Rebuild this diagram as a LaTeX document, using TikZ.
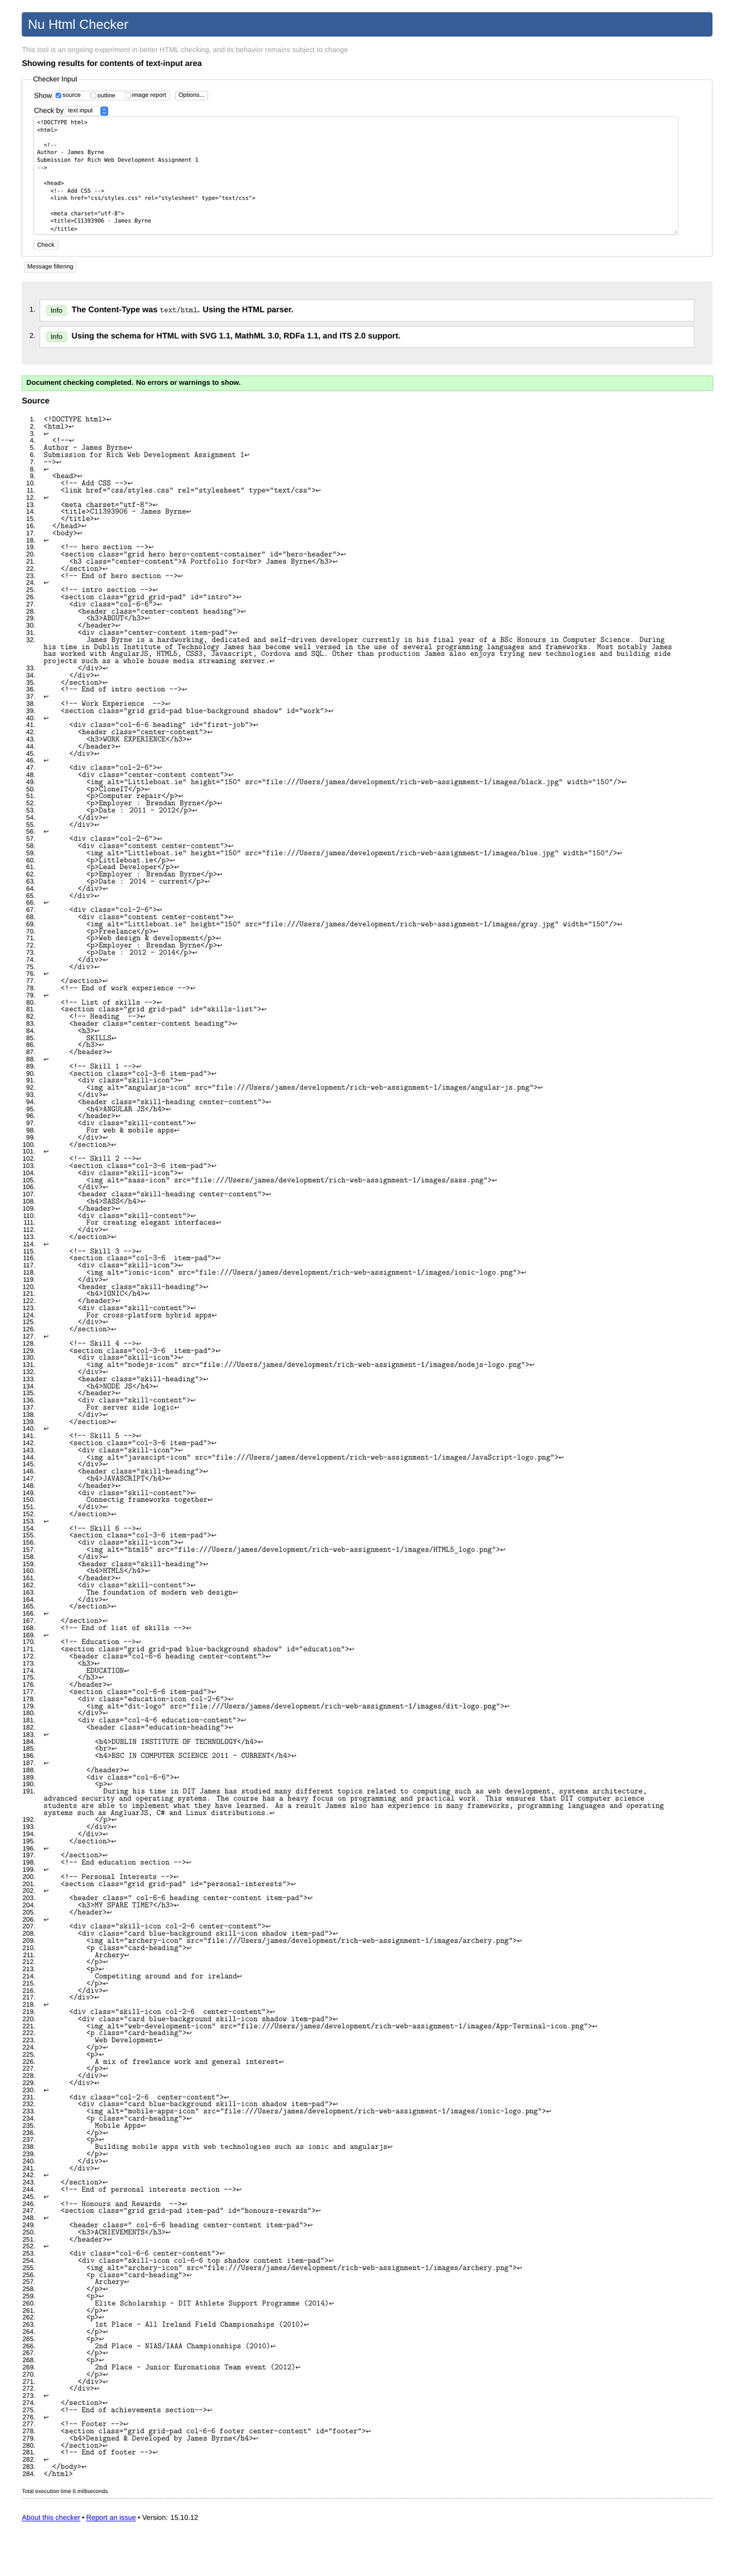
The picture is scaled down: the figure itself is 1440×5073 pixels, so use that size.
\documentclass[tikz,border=0pt]{standalone}
\usepackage{fontspec}
\setmainfont{Liberation Sans}
\newfontfamily\symfont{DejaVu Sans}
\newfontfamily\areafont{DejaVu Sans Mono}
\usetikzlibrary{positioning}

\definecolor{hdrblue}{RGB}{54,93,149}
\definecolor{taggray}{RGB}{160,160,160}
\definecolor{boxgray}{RGB}{204,204,204}
\definecolor{panelgray}{RGB}{238,238,238}
\definecolor{okfill}{RGB}{204,255,204}
\definecolor{okline}{RGB}{160,210,160}
\definecolor{infofill}{RGB}{220,250,215}
\definecolor{infoline}{RGB}{150,200,140}
\definecolor{tickblue}{RGB}{59,131,247}
\definecolor{linkblue}{RGB}{0,0,238}

\newcommand\fs[1]{\fontsize{#1}{#1}\selectfont}
\newcommand\ret{{\symfont\fs{12}\char"21A9}}
\newcommand\imgdir{file:///Users/james/development/rich-web-assignment-1/images/}

\tikzset{
  uibox/.style={draw=boxgray, line width=0.8pt, rounded corners=3pt},
  uitext/.style={anchor=west, inner sep=0pt, font=\fs{14}},
  uismall/.style={anchor=west, inner sep=0pt, font=\fs{12}},
  msgtext/.style={anchor=west, inner sep=0pt, font=\bfseries\fs{16}},
  badge/.style={draw=infoline, fill=infofill, rounded corners=3pt, minimum width=39pt, minimum height=19pt, inner sep=0pt, font=\fs{14}},
  areatext/.style={anchor=west, inner sep=0pt, font=\areafont\fs{11}},
  srcno/.style={anchor=east, inner sep=0pt, text height=9pt, text depth=2pt, font=\fs{13}},
  srctext/.style={anchor=west, inner sep=0pt, text height=10pt, text depth=3pt, font=\ttfamily\fs{16}},
  linktext/.style={anchor=base west, inner sep=0pt, text=linkblue, font=\fs{14}},
  basetext/.style={anchor=base west, inner sep=0pt, font=\fs{14}}
}

% one listing row: number, indent (chars), text
\newcount\srcrow
\newcount\srcnum
\newcommand\srcbare[2]{%
  \global\advance\srcnum by 1
  \node[srcno] (no\the\srcnum) at (70,{827+14*\the\srcrow}) {\the\srcnum.};
  \node[srctext] (src\the\srcnum) at ({86+8.4*#1},{827+14*\the\srcrow}) {#2};
  \global\advance\srcrow by 1 }
\newcommand\srcline[2]{\srcbare{#1}{#2\ret}}
\newcommand\srcwrap[1]{%
  \node[srctext] at (86,{827+14*\the\srcrow}) {#1};
  \global\advance\srcrow by 1 }

\begin{document}
\begin{tikzpicture}[x=1pt,y=-1pt]
    \useasboundingbox (0,0) rectangle (1440,5073);
    \fill[white] (0,0) rectangle (1440,5073);

    % header
    \fill[hdrblue, rounded corners=4pt] (43,24) rectangle (1404,72);
    \node[anchor=west, inner sep=0pt, text=white, font=\fs{26}] (title) at (55,48) {Nu Html Checker};
    \node[uitext, text=taggray] (tagline) at (43,99) {This tool is an ongoing experiment in better HTML checking, and its behavior remains subject to change};
    \node[uitext, font=\bfseries\fs{16}] (showing) at (43,126) {Showing results for contents of text-input area};

    % checker input
    \draw[uibox] (43,157) rectangle (1404,505);
    \node[uitext, fill=white, inner xsep=2pt] (legend) at (63,157) {Checker Input};
    \node[uitext] (show) at (67,188) {Show};
    \draw[uibox] (103,179) rectangle (334,197);
    \fill[tickblue, rounded corners=2pt] (109.5,182.5) rectangle (120.5,193.5);
    \draw[white, line width=1.2pt] (111.5,188.5) -- (114,191.5) -- (118.5,184.5);
    \node[uismall] (source) at (123,188) {source};
    \draw[draw=gray, rounded corners=2pt] (179,182.5) rectangle (189.5,193.5);
    \node[uismall] (outline) at (192,188) {outline};
    \draw[draw=gray, rounded corners=2pt] (246.5,182.5) rectangle (257,193.5);
    \node[uismall] (imgrep) at (260,188) {image report};
    \draw[uibox] (345.5,180) rectangle (409.5,197);
    \node[font=\fs{12}, inner sep=0pt] (options) at (377.5,188.5) {Options...};

    \node[uitext] (checkby) at (67,219) {Check by};
    \draw[uibox] (128,210) rectangle (213,228);
    \fill[tickblue, rounded corners=3pt] (198,210) rectangle (213,228);
    \draw[white, line width=0.8pt] (202.5,217) -- (205.5,214) -- (208.5,217);
    \draw[white, line width=0.8pt] (202.5,221) -- (205.5,224) -- (208.5,221);
    \node[uismall] (textinput) at (134,219) {text input};

    \draw[uibox] (66.5,230) rectangle (1337,462);
    \node[areatext] (a1) at (73,241) {<!DOCTYPE html>};
    \node[areatext] (a2) at (73,256) {<html>};
    \node[areatext] (a4) at (86.2,286) {<!-{}-};
    \node[areatext] (a5) at (73,301) {Author - James Byrne};
    \node[areatext] (a6) at (73,316) {Submission for Rich Web Development Assignment 1};
    \node[areatext] (a7) at (73,331) {-{}->};
    \node[areatext] (a9) at (86.2,361) {<head>};
    \node[areatext] (a10) at (99.4,376) {<!-{}- Add CSS -{}->};
    \node[areatext] (a11) at (99.4,391) {<link href="css/styles.css" rel="stylesheet" type="text/css">};
    \node[areatext] (a13) at (99.4,421) {<meta charset="utf-8">};
    \node[areatext] (a14) at (99.4,436) {<title>C11393906 - James Byrne};
    \node[areatext] (a15) at (99.4,451) {</title>};
    \draw[gray] (1334,454) -- (1329,459);
    \draw[gray] (1334,457) -- (1332,459);

    \draw[uibox] (66.5,473) rectangle (114,491);
    \node[font=\fs{12}, inner sep=0pt] (check) at (90.25,482) {Check};
    \draw[uibox] (48,517) rectangle (150.5,536);
    \node[font=\fs{12}, inner sep=0pt] (filter) at (99.25,526.5) {Message filtering};

    % messages
    \fill[panelgray, rounded corners=3pt] (43,554) rectangle (1404,718);
    \draw[draw=boxgray, fill=white] (78.5,590) rectangle (1368,632);
    \draw[draw=boxgray, fill=white] (78.5,642) rectangle (1368,684);
    \node[srcno, font=\fs{14}] (m1) at (70,611) {1.};
    \node[srcno, font=\fs{14}] (m2) at (70,663) {2.};
    \node[badge] (info1) at (111.5,611.5) {Info};
    \node[badge] (info2) at (111.5,663.5) {Info};
    \node[msgtext] (msg1) at (141,611) {The Content-Type was {\mdseries\ttfamily text/html}. Using the HTML parser.};
    \node[msgtext] (msg2) at (141,663) {Using the schema for HTML with SVG 1.1, MathML 3.0, RDFa 1.1, and ITS 2.0 support.};

    \draw[draw=okline, fill=okfill] (43,740) rectangle (1404,769);
    \node[uitext, font=\bfseries\fs{14}] (done) at (52,754.5) {Document checking completed. No errors or warnings to show.};
    \node[uitext, font=\bfseries\fs{16}] (srchead) at (43,789) {Source};

    % source listing
    \srcline{0}{<!DOCTYPE html>}
    \srcline{0}{<html>}
    \srcline{0}{}
    \srcline{2}{<!-{}-}
    \srcline{0}{Author - James Byrne}
    \srcline{0}{Submission for Rich Web Development Assignment 1}
    \srcline{0}{-{}->}
    \srcline{0}{}
    \srcline{2}{<head>}
    \srcline{4}{<!-{}- Add CSS -{}->}
    \srcline{4}{<link href="css/styles.css" rel="stylesheet" type="text/css">}
    \srcline{0}{}
    \srcline{4}{<meta charset="utf-8">}
    \srcline{4}{<title>C11393906 - James Byrne}
    \srcline{4}{</title>}
    \srcline{2}{</head>}
    \srcline{2}{<body>}
    \srcline{0}{}
    \srcline{4}{<!-{}- hero section -{}->}
    \srcline{4}{<section class="grid hero hero-content-container" id="hero-header">}
    \srcline{6}{<h3 class="center-content">A Portfolio for<br> James Byrne</h3>}
    \srcline{4}{</section>}
    \srcline{4}{<!-{}- End of hero section -{}->}
    \srcline{0}{}
    \srcline{4}{<!-{}- intro section -{}->}
    \srcline{4}{<section class="grid grid-pad" id="intro">}
    \srcline{6}{<div class="col-6-6">}
    \srcline{8}{<header class="center-content heading">}
    \srcline{10}{<h3>ABOUT</h3>}
    \srcline{8}{</header>}
    \srcline{8}{<div class="center-content item-pad">}
    \srcbare{10}{James Byrne is a hardworking, dedicated and self-driven developer currently in his final year of a BSc Honours in Computer Science. During}
    \srcwrap{his time in Dublin Institute of Technology James has become well versed in the use of several programming languages and frameworks. Most notably James}
    \srcwrap{has worked with AngularJS, HTML5, CSS3, Javascript, Cordova and SQL. Other than production James also enjoys trying new technologies and building side}
    \srcwrap{projects such as a whole house media streaming server.\ret}
    \srcline{8}{</div>}
    \srcline{6}{</div>}
    \srcline{4}{</section>}
    \srcline{4}{<!-{}- End of intro section -{}->}
    \srcline{0}{}
    \srcline{4}{<!-{}- Work Experience~ -{}->}
    \srcline{4}{<section class="grid grid-pad blue-background shadow" id="work">}
    \srcline{0}{}
    \srcline{6}{<div class="col-6-6 heading" id="first-job">}
    \srcline{8}{<header class="center-content">}
    \srcline{10}{<h3>WORK EXPERIENCE</h3>}
    \srcline{8}{</header>}
    \srcline{6}{</div>}
    \srcline{0}{}
    \srcline{6}{<div class="col-2-6">}
    \srcline{8}{<div class="center-content content">}
    \srcline{10}{<img alt="Littleboat.ie" height="150" src="\imgdir black.jpg" width="150"/>}
    \srcline{10}{<p>CloneIT</p>}
    \srcline{10}{<p>Computer repair</p>}
    \srcline{10}{<p>Employer : Brendan Byrne</p>}
    \srcline{10}{<p>Date : 2011 - 2012</p>}
    \srcline{8}{</div>}
    \srcline{6}{</div>}
    \srcline{0}{}
    \srcline{6}{<div class="col-2-6">}
    \srcline{8}{<div class="content center-content">}
    \srcline{10}{<img alt="Littleboat.ie" height="150" src="\imgdir blue.jpg" width="150"/>}
    \srcline{10}{<p>Littleboat.ie</p>}
    \srcline{10}{<p>Lead Developer</p>}
    \srcline{10}{<p>Employer : Brendan Byrne</p>}
    \srcline{10}{<p>Date : 2014 - current</p>}
    \srcline{8}{</div>}
    \srcline{6}{</div>}
    \srcline{0}{}
    \srcline{6}{<div class="col-2-6">}
    \srcline{8}{<div class="content center-content">}
    \srcline{10}{<img alt="Littleboat.ie" height="150" src="\imgdir gray.jpg" width="150"/>}
    \srcline{10}{<p>Freelance</p>}
    \srcline{10}{<p>Web design \& development</p>}
    \srcline{10}{<p>Employer : Brendan Byrne</p>}
    \srcline{10}{<p>Date : 2012 - 2014</p>}
    \srcline{8}{</div>}
    \srcline{6}{</div>}
    \srcline{0}{}
    \srcline{4}{</section>}
    \srcline{4}{<!-{}- End of work experience -{}->}
    \srcline{0}{}
    \srcline{4}{<!-{}- List of skills -{}->}
    \srcline{4}{<section class="grid grid-pad" id="skills-list">}
    \srcline{6}{<!-{}- Heading~ -{}->}
    \srcline{6}{<header class="center-content heading">}
    \srcline{8}{<h3>}
    \srcline{10}{SKILLS}
    \srcline{8}{</h3>}
    \srcline{6}{</header>}
    \srcline{0}{}
    \srcline{6}{<!-{}- Skill 1 -{}->}
    \srcline{6}{<section class="col-3-6 item-pad">}
    \srcline{8}{<div class="skill-icon">}
    \srcline{10}{<img alt="angularjs-icon" src="\imgdir angular-js.png">}
    \srcline{8}{</div>}
    \srcline{8}{<header class="skill-heading center-content">}
    \srcline{10}{<h4>ANGULAR JS</h4>}
    \srcline{8}{</header>}
    \srcline{8}{<div class="skill-content">}
    \srcline{10}{For web \& mobile apps}
    \srcline{8}{</div>}
    \srcline{6}{</section>}
    \srcline{0}{}
    \srcline{6}{<!-{}- Skill 2 -{}->}
    \srcline{6}{<section class="col-3-6 item-pad">}
    \srcline{8}{<div class="skill-icon">}
    \srcline{10}{<img alt="sass-icon" src="\imgdir sass.png">}
    \srcline{8}{</div>}
    \srcline{8}{<header class="skill-heading center-content">}
    \srcline{10}{<h4>SASS</h4>}
    \srcline{8}{</header>}
    \srcline{8}{<div class="skill-content">}
    \srcline{10}{For creating elegant interfaces}
    \srcline{8}{</div>}
    \srcline{6}{</section>}
    \srcline{0}{}
    \srcline{6}{<!-{}- Skill 3 -{}->}
    \srcline{6}{<section class="col-3-6~ item-pad">}
    \srcline{8}{<div class="skill-icon">}
    \srcline{10}{<img alt="ionic-icon" src="\imgdir ionic-logo.png">}
    \srcline{8}{</div>}
    \srcline{8}{<header class="skill-heading">}
    \srcline{10}{<h4>IONIC</h4>}
    \srcline{8}{</header>}
    \srcline{8}{<div class="skill-content">}
    \srcline{10}{For cross-platform hybrid apps}
    \srcline{8}{</div>}
    \srcline{6}{</section>}
    \srcline{0}{}
    \srcline{6}{<!-{}- Skill 4 -{}->}
    \srcline{6}{<section class="col-3-6~ item-pad">}
    \srcline{8}{<div class="skill-icon">}
    \srcline{10}{<img alt="nodejs-icon" src="\imgdir nodejs-logo.png">}
    \srcline{8}{</div>}
    \srcline{8}{<header class="skill-heading">}
    \srcline{10}{<h4>NODE JS</h4>}
    \srcline{8}{</header>}
    \srcline{8}{<div class="skill-content">}
    \srcline{10}{For server side logic}
    \srcline{8}{</div>}
    \srcline{6}{</section>}
    \srcline{0}{}
    \srcline{6}{<!-{}- Skill 5 -{}->}
    \srcline{6}{<section class="col-3-6 item-pad">}
    \srcline{8}{<div class="skill-icon">}
    \srcline{10}{<img alt="javascipt-icon" src="\imgdir JavaScript-logo.png">}
    \srcline{8}{</div>}
    \srcline{8}{<header class="skill-heading">}
    \srcline{10}{<h4>JAVASCRIPT</h4>}
    \srcline{8}{</header>}
    \srcline{8}{<div class="skill-content">}
    \srcline{10}{Connectig frameworks together}
    \srcline{8}{</div>}
    \srcline{6}{</section>}
    \srcline{0}{}
    \srcline{6}{<!-{}- Skill 6 -{}->}
    \srcline{6}{<section class="col-3-6 item-pad">}
    \srcline{8}{<div class="skill-icon">}
    \srcline{10}{<img alt="html5" src="\imgdir HTML5\_logo.png">}
    \srcline{8}{</div>}
    \srcline{8}{<header class="skill-heading">}
    \srcline{10}{<h4>HTML5</h4>}
    \srcline{8}{</header>}
    \srcline{8}{<div class="skill-content">}
    \srcline{10}{The foundation of modern web design}
    \srcline{8}{</div>}
    \srcline{6}{</section>}
    \srcline{0}{}
    \srcline{4}{</section>}
    \srcline{4}{<!-{}- End of list of skills -{}->}
    \srcline{0}{}
    \srcline{4}{<!-{}- Education -{}->}
    \srcline{4}{<section class="grid grid-pad blue-background shadow" id="education">}
    \srcline{6}{<header class="col-6-6 heading center-content">}
    \srcline{8}{<h3>}
    \srcline{10}{EDUCATION}
    \srcline{8}{</h3>}
    \srcline{6}{</header>}
    \srcline{6}{<section class="col-6-6 item-pad">}
    \srcline{8}{<div class="education-icon col-2-6">}
    \srcline{10}{<img alt="dit-logo" src="\imgdir dit-logo.png">}
    \srcline{8}{</div>}
    \srcline{8}{<div class="col-4-6 education-content">}
    \srcline{10}{<header class="education-heading">}
    \srcline{0}{}
    \srcline{12}{<h4>DUBLIN INSTITUTE OF TECHNOLOGY</h4>}
    \srcline{12}{<br>}
    \srcline{12}{<h4>BSC IN COMPUTER SCIENCE 2011 - CURRENT</h4>}
    \srcline{0}{}
    \srcline{10}{</header>}
    \srcline{10}{<div class="col-6-6">}
    \srcline{12}{<p>}
    \srcbare{14}{During his time in DIT James has studied many different topics related to computing such as web development, systems architecture,}
    \srcwrap{advanced security and operating systems. The course has a heavy focus on programming and practical work. This ensures that DIT computer science}
    \srcwrap{students are able to implement what they have learned. As a result James also has experience in many frameworks, programming languages and operating}
    \srcwrap{systems such as AngluarJS, C\# and Linux distributions.\ret}
    \srcline{12}{</p>}
    \srcline{10}{</div>}
    \srcline{8}{</div>}
    \srcline{6}{</section>}
    \srcline{0}{}
    \srcline{4}{</section>}
    \srcline{4}{<!-{}- End education section -{}->}
    \srcline{0}{}
    \srcline{4}{<!-{}- Personal Interests -{}->}
    \srcline{4}{<section class="grid grid-pad" id="personal-interests">}
    \srcline{0}{}
    \srcline{6}{<header class=" col-6-6 heading center-content item-pad">}
    \srcline{8}{<h3>MY SPARE TIME?</h3>}
    \srcline{6}{</header>}
    \srcline{0}{}
    \srcline{6}{<div class="skill-icon col-2-6 center-content">}
    \srcline{8}{<div class="card blue-background skill-icon shadow item-pad">}
    \srcline{10}{<img alt="archery-icon" src="\imgdir archery.png">}
    \srcline{10}{<p class="card-heading">}
    \srcline{12}{Archery}
    \srcline{10}{</p>}
    \srcline{10}{<p>}
    \srcline{12}{Competiting around and for ireland}
    \srcline{10}{</p>}
    \srcline{8}{</div>}
    \srcline{6}{</div>}
    \srcline{0}{}
    \srcline{6}{<div class="skill-icon col-2-6~ center-content">}
    \srcline{8}{<div class="card blue-background skill-icon shadow item-pad">}
    \srcline{10}{<img alt="web-development-icon" src="\imgdir App-Terminal-icon.png">}
    \srcline{10}{<p class="card-heading">}
    \srcline{12}{Web Development}
    \srcline{10}{</p>}
    \srcline{10}{<p>}
    \srcline{12}{A mix of freelance work and general interest}
    \srcline{10}{</p>}
    \srcline{8}{</div>}
    \srcline{6}{</div>}
    \srcline{0}{}
    \srcline{6}{<div class="col-2-6~ center-content">}
    \srcline{8}{<div class="card blue-background skill-icon shadow item-pad">}
    \srcline{10}{<img alt="mobile-apps-icon" src="\imgdir ionic-logo.png">}
    \srcline{10}{<p class="card-heading">}
    \srcline{12}{Mobile Apps}
    \srcline{10}{</p>}
    \srcline{10}{<p>}
    \srcline{12}{Building mobile apps with web technologies such as ionic and angularjs}
    \srcline{10}{</p>}
    \srcline{8}{</div>}
    \srcline{6}{</div>}
    \srcline{0}{}
    \srcline{4}{</section>}
    \srcline{4}{<!-{}- End of personal interests section -{}->}
    \srcline{0}{}
    \srcline{4}{<!-{}- Honours and Rewards~ -{}->}
    \srcline{4}{<section class="grid grid-pad item-pad" id="honours-rewards">}
    \srcline{0}{}
    \srcline{6}{<header class=" col-6-6 heading center-content item-pad">}
    \srcline{8}{<h3>ACHIEVEMENTS</h3>}
    \srcline{6}{</header>}
    \srcline{0}{}
    \srcline{6}{<div class="col-6-6 center-content">}
    \srcline{8}{<div class="skill-icon col-6-6 top shadow content item-pad">}
    \srcline{10}{<img alt="archery-icon" src="\imgdir archery.png">}
    \srcline{10}{<p class="card-heading">}
    \srcline{12}{Archery}
    \srcline{10}{</p>}
    \srcline{10}{<p>}
    \srcline{12}{Elite Scholarship - DIT Athlete Support Programme (2014)}
    \srcline{10}{</p>}
    \srcline{10}{<p>}
    \srcline{12}{1st Place - All Ireland Field Championships (2010)}
    \srcline{10}{</p>}
    \srcline{10}{<p>}
    \srcline{12}{2nd Place - NIAS/IAAA Championships (2010)}
    \srcline{10}{</p>}
    \srcline{10}{<p>}
    \srcline{12}{2nd Place - Junior Euronations Team event (2012)}
    \srcline{10}{</p>}
    \srcline{8}{</div>}
    \srcline{6}{</div>}
    \srcline{0}{}
    \srcline{4}{</section>}
    \srcline{4}{<!-{}- End of achievements section-{}->}
    \srcline{0}{}
    \srcline{4}{<!-{}- Footer -{}->}
    \srcline{4}{<section class="grid grid-pad col-6-6 footer center-content" id="footer">}
    \srcline{6}{<h4>Designed \& Developed by James Byrne</h4>}
    \srcline{4}{</section>}
    \srcline{4}{<!-{}- End of footer -{}->}
    \srcline{0}{}
    \srcline{2}{</body>}
    \srcbare{0}{</html>}

    % footer
    \node[uitext, font=\fs{11}] (timing) at (43,4906) {Total execution time 6 milliseconds.};
    \draw[gray, dotted] (43,4920) -- (1404,4920);
    \node[linktext] (about) at (43,4963) {About this checker};
    \node[basetext, right=3pt of about.base east, anchor=base west] (dot1) {\textbullet};
    \node[linktext, right=3pt of dot1.base east, anchor=base west] (report) {Report an issue};
    \node[basetext, right=3pt of report.base east, anchor=base west] (version) {\textbullet\ Version: 15.10.12};
    \draw[linkblue, line width=0.8pt] ([yshift=-1.5pt]about.base west) -- ([yshift=-1.5pt]about.base east);
    \draw[linkblue, line width=0.8pt] ([yshift=-1.5pt]report.base west) -- ([yshift=-1.5pt]report.base east);
\end{tikzpicture}
\end{document}
